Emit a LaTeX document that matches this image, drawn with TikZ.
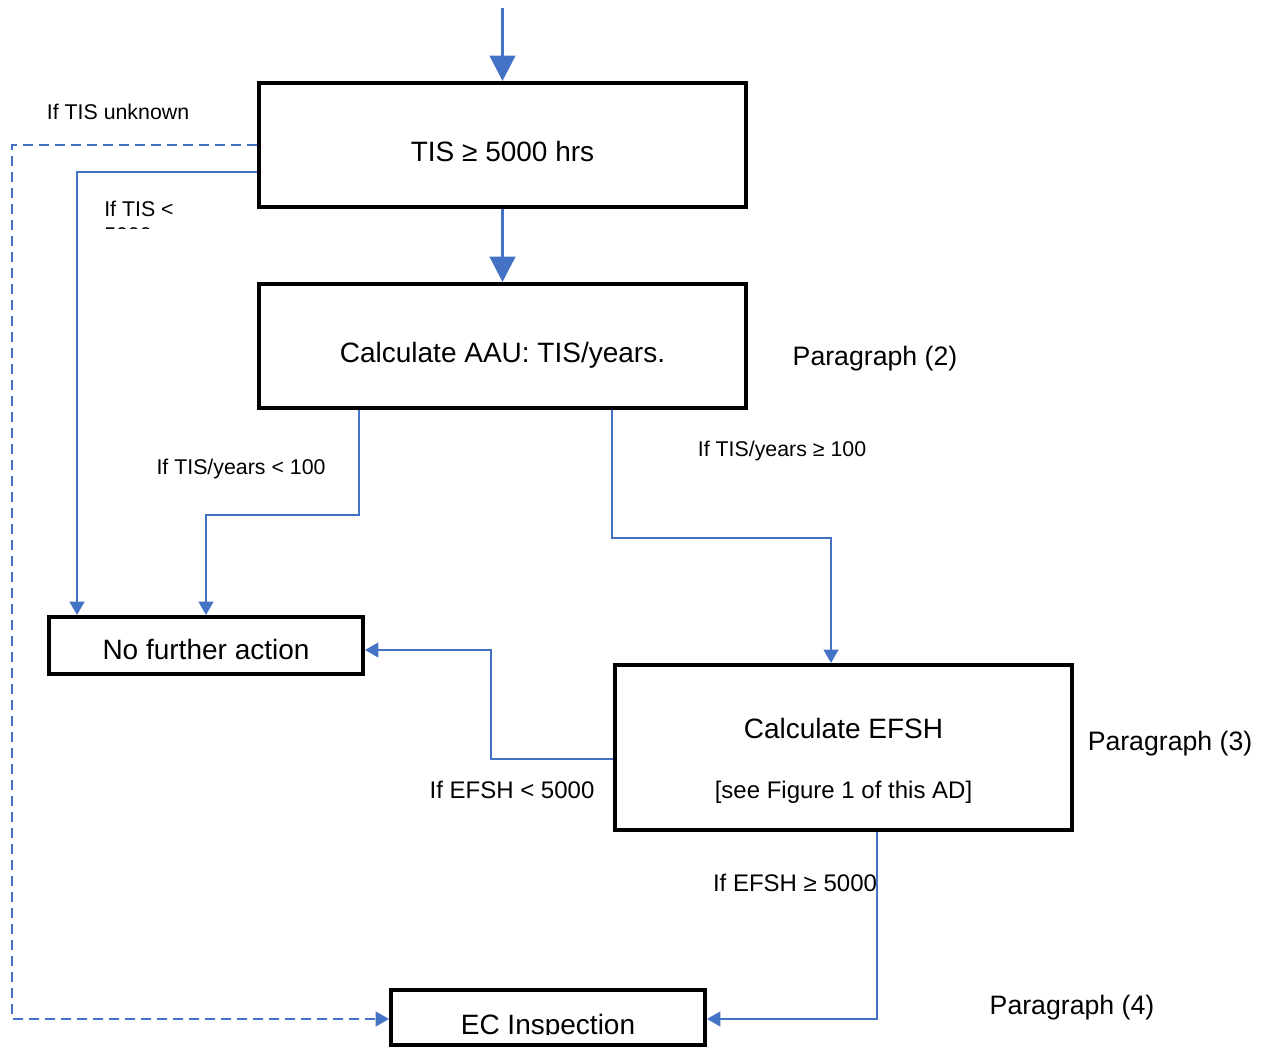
\documentclass[tikz,border=0pt]{standalone}
\usepackage{fontspec}
\setmainfont{Liberation Sans}
\usetikzlibrary{arrows.meta}

\definecolor{flowblue}{HTML}{4472C4}

\tikzset{%
  every box/.style={
    draw,
    line width=3pt,
    inner sep=0pt,
    text height=25pt,
    text depth=0pt,
    font=\fontsize{21}{25}\selectfont
  },
  box text/.style={
    inner sep=0pt,
    font=\fontsize{21}{25}\selectfont
  },
  note text/.style={
    inner sep=0pt,
    font=\fontsize{18}{22}\selectfont
  },
  para label/.style={
    inner sep=0pt,
    font=\fontsize{20}{24}\selectfont
  },
  cond label/.style={
    inner sep=0pt,
    font=\fontsize{16}{19}\selectfont
  },
  big label/.style={
    inner sep=0pt,
    font=\fontsize{18}{21}\selectfont
  },
  main flow/.style={
    draw=flowblue,
    line width=2.5pt,
    -{Triangle[length=19pt,width=19pt]}
  },
  flow/.style={
    draw=flowblue,
    line width=1.6pt,
    -{Triangle[length=10pt,width=11pt]}
  },
}

\begin{document}
\begin{tikzpicture}[x=0.75pt,y=-0.75pt]
\useasboundingbox (0,0) rectangle (1266,1048);

% boxes
\node [every box, minimum width=365pt, minimum height=93pt] (tis) at (502.5,145) {TIS ≥ 5000 hrs};
\node [every box, minimum width=365pt, minimum height=93pt] (aau) at (502.5,346) {Calculate AAU: TIS/years.};
\node [every box, minimum width=235.5pt, minimum height=42.75pt, text height=21pt] (nfa) at (206,645.5) {No further action};
\node [every box, minimum width=342.75pt, minimum height=123.75pt] (efsh) at (843.5,747.5) {};
\node [box text] (efsh-title) at (843.5,728) {Calculate EFSH};
\node [note text] (efsh-note) at (843.5,792) {[see Figure 1 of this AD]};
\node [every box, minimum width=235.5pt, minimum height=41.25pt] (ec) at (548,1017.5) {};
\begin{scope}
  \clip (393,992) rectangle (703,1034);
  \node [box text] (ec-text) at (548,1027) {EC Inspection};
\end{scope}

\foreach \p/\x/\y in {2/875/359, 3/1170/744, 4/1072/1008}
  \node [para label] (para-\p) at (\x,\y) {Paragraph (\p)};

% main arrows
\coordinate (start) at (502.5,8);
\draw [main flow] (start) -- (tis.north);
\draw [main flow] (tis) -- (aau);

% branches
\draw [flow, dash pattern=on 7.5pt off 4.5pt] (tis.west) -- (12,145) |- (ec.west |- 0,1019);
\draw [flow] (tis.west |- 0,172) -| (nfa.north -| 77,0);
\draw [flow] (aau.south -| 359,0) -- (359,515) -| (nfa.north);
\draw [flow] (aau.south -| 612,0) -- (612,538) -| (efsh.north -| 831,0);
\draw [flow] (efsh.west |- 0,759) -- (491,759) |- (nfa.east |- 0,650);
\draw [flow] (efsh.south -| 877,0) |- (ec.east |- 0,1019);

% labels
\node [cond label] (lbl-unknown) at (118,112) {If TIS unknown};
\begin{scope}
  \clip (90,195) rectangle (200,229);
  \node [cond label, anchor=north west, align=left] (lbl-less) at (104,201) {If TIS <\\5000};
\end{scope}
\node [cond label] (lbl-years-lo) at (241,469) {If TIS/years < 100};
\node [cond label] (lbl-years-hi) at (782,451) {If TIS/years ≥ 100};
\node [big label] (lbl-efsh-lo) at (512,790) {If EFSH < 5000};
\node [big label] (lbl-efsh-hi) at (795,883) {If EFSH ≥ 5000};

\end{tikzpicture}
\end{document}
